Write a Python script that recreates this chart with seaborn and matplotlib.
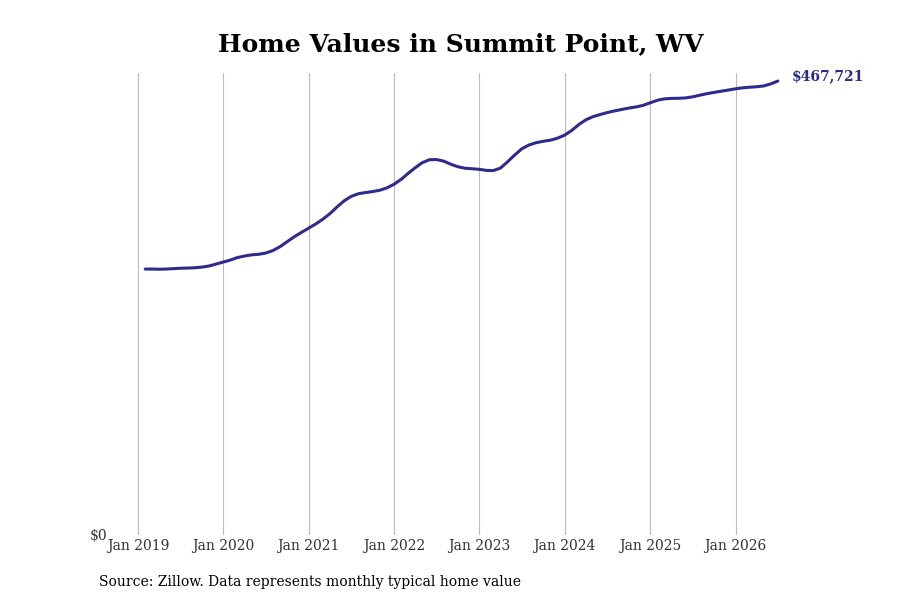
import matplotlib.pyplot as plt
import matplotlib.ticker as mticker
import pandas as pd
import seaborn as sns

sns.set_style("white")
plt.rcParams['font.family'] = ['DejaVu Serif']

# monthly typical home value, Feb 2019 - Jul 2026
start_month = '2019-02-01'
home_values = [
    274000, 274000, 273800, 274000, 274400, 274800, 275000, 275300, 276000, 277100, 279100,
    281200, 283300, 285800, 287400, 288600, 289200, 290500, 293100, 297200, 302300, 307400, 311800,
    316200, 320600, 325200, 331000, 337800, 344200, 348800, 351600, 352800, 353800, 355200, 357600,
    361400, 366500, 372400, 378300, 383500, 386600, 386800, 385200, 381900, 379400, 377800, 377300,
    376700, 375600, 375400, 378000, 384400, 391500, 397800, 401800, 404200, 405600, 406800, 408800,
    412000, 417000, 422800, 427800, 431000, 433200, 435200, 436900, 438400, 439800, 441000, 442600,
    445300, 447900, 449300, 449800, 449900, 450300, 451400, 453100, 454700, 456000, 457200, 458400,
    459700, 460700, 461300, 461800, 462600, 464800, 467721,
]
tick_labels = ['Jan 2019', 'Jan 2020', 'Jan 2021', 'Jan 2022',
               'Jan 2023', 'Jan 2024', 'Jan 2025', 'Jan 2026']

df = pd.DataFrame({
    'date': pd.date_range(start_month, periods=len(home_values), freq='MS'),
    'value': home_values,
})

line_color = '#2e2b8c'

fig = plt.figure(figsize=(9, 6), dpi=100)
ax = fig.add_axes([112 / 900, 1 - 535 / 600, (780 - 112) / 900, (535 - 73) / 600])

sns.lineplot(data=df, x='date', y='value', color=line_color, linewidth=2.2, ax=ax,
             solid_joinstyle='round', solid_capstyle='round')

ax.set_xlim(pd.Timestamp('2018-09-12'), pd.Timestamp('2026-07-10'))
ax.set_ylim(0, home_values[-1] * 462 / 454)

ax.set_xticks(pd.to_datetime([f'{lbl[4:]}-01-01' for lbl in tick_labels]))
ax.set_xticklabels(tick_labels, fontsize=10, color='#333333')
ax.set_yticks([0])
ax.yaxis.set_major_formatter(mticker.FuncFormatter(lambda v, p: f'${v:,.0f}'))
ax.tick_params(axis='y', labelsize=10, colors='#333333', length=0, pad=3)
ax.tick_params(axis='x', length=0, pad=3)

ax.grid(axis='x', color='#bbbbbb', linewidth=0.8)
ax.grid(axis='y', visible=False)
sns.despine(ax=ax, left=True, bottom=True)
ax.set_xlabel('')
ax.set_ylabel('')

last = df.iloc[-1]
ax.annotate(f'${last["value"]:,.0f}', xy=(last['date'], last['value']),
            xytext=(10, 3.6), textcoords='offset points', ha='left', va='center',
            fontsize=10, fontweight='bold', color=line_color, annotation_clip=False)

fig.text(460.5 / 900, 1 - 44 / 600, 'Home Values in Summit Point, WV', ha='center', va='center',
         fontsize=18, fontweight='bold', color='black')
fig.text(99 / 900, 1 - 582 / 600, 'Source: Zillow. Data represents monthly typical home value',
         ha='left', va='center', fontsize=10, color='black')

fig.savefig('out.png', dpi=100)
